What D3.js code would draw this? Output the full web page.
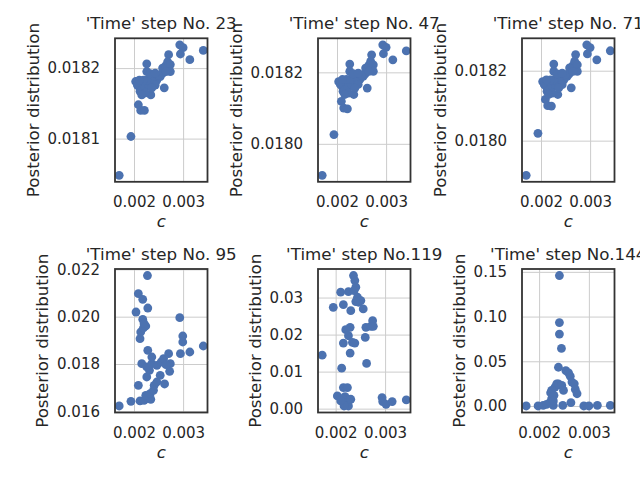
<!DOCTYPE html>
<html>
<head>
<meta charset="utf-8">
<script src="https://cdn.jsdelivr.net/npm/d3@7"></script>
<style>
  body { margin: 0; background: #fff; }
  text { font-family: "DejaVu Sans", sans-serif; fill: #262626; }
</style>
</head>
<body>
<svg id="fig" width="640" height="480"></svg>
<script>
/* values */

// c samples shared by the first three steps
var cSample = [0.001699, 0.001938, 0.002089, 0.002137, 0.002212, 0.002034, 0.002110, 0.002123,
  0.002178, 0.002260, 0.002260, 0.002308, 0.002342, 0.002397, 0.002466, 0.002534, 0.002575,
  0.002616, 0.002582, 0.002644, 0.002705, 0.002685, 0.002740, 0.002740, 0.002932, 0.003000,
  0.002945, 0.003137, 0.003411, 0.002068, 0.002158, 0.002226, 0.002295, 0.002363, 0.002260,
  0.002329, 0.002192, 0.002432, 0.002500, 0.002110, 0.002233, 0.002363, 0.002432, 0.002158,
  0.002651];

var postStep23 = [0.018048, 0.018103, 0.018148, 0.018140, 0.018140, 0.018181, 0.018173, 0.018167,
  0.018179, 0.018206, 0.018195, 0.018183, 0.018162, 0.018188, 0.018183, 0.018188, 0.018192,
  0.018172, 0.018200, 0.018203, 0.018219, 0.018209, 0.018205, 0.018195, 0.018233, 0.018229,
  0.018220, 0.018212, 0.018225, 0.018176, 0.018169, 0.018173, 0.018176, 0.018181, 0.018183,
  0.018192, 0.018183, 0.018176, 0.018190, 0.018183, 0.018165, 0.018172, 0.018193, 0.018162,
  0.018195];

var postStep47 = [0.017912, 0.018026, 0.018119, 0.018100, 0.018098, 0.018174, 0.018159, 0.018147,
  0.018170, 0.018223, 0.018203, 0.018180, 0.018138, 0.018189, 0.018180, 0.018189, 0.018196,
  0.018156, 0.018212, 0.018219, 0.018249, 0.018231, 0.018221, 0.018203, 0.018277, 0.018270,
  0.018252, 0.018235, 0.018260, 0.018166, 0.018152, 0.018159, 0.018166, 0.018175, 0.018180,
  0.018196, 0.018180, 0.018166, 0.018193, 0.018180, 0.018142, 0.018156, 0.018198, 0.018138,
  0.018203];

var postStep71 = [0.017901, 0.018021, 0.018118, 0.018100, 0.018099, 0.018169, 0.018154, 0.018141,
  0.018165, 0.018219, 0.018198, 0.018174, 0.018132, 0.018184, 0.018174, 0.018184, 0.018191,
  0.018151, 0.018208, 0.018214, 0.018246, 0.018227, 0.018217, 0.018198, 0.018274, 0.018266,
  0.018248, 0.018231, 0.018257, 0.018160, 0.018146, 0.018154, 0.018160, 0.018170, 0.018174,
  0.018191, 0.018174, 0.018160, 0.018189, 0.018174, 0.018136, 0.018151, 0.018193, 0.018132,
  0.018198];

// later steps, read as [c, posterior] pairs
var step95 = [[0.001699, 0.016225], [0.001938, 0.016423], [0.002089, 0.017099], [0.002123, 0.016437],
  [0.002205, 0.016465], [0.002295, 0.016535], [0.002342, 0.016507], [0.002240, 0.016676],
  [0.002329, 0.016746], [0.002397, 0.016887], [0.002411, 0.017099], [0.002466, 0.017239],
  [0.002534, 0.017521], [0.002623, 0.017155], [0.002260, 0.017451], [0.002315, 0.017732],
  [0.002158, 0.018014], [0.002260, 0.017873], [0.002363, 0.018014], [0.002363, 0.018296],
  [0.002281, 0.018577], [0.002466, 0.017944], [0.002555, 0.018085], [0.002603, 0.018225],
  [0.002705, 0.018437], [0.002740, 0.018014], [0.002726, 0.017690], [0.002651, 0.017972],
  [0.002945, 0.018437], [0.003137, 0.018507], [0.002993, 0.018930], [0.002993, 0.019183],
  [0.002932, 0.019958], [0.003411, 0.018761], [0.002123, 0.019070], [0.002137, 0.019352],
  [0.002192, 0.019521], [0.002240, 0.019606], [0.002178, 0.019887], [0.002041, 0.020197],
  [0.002281, 0.020366], [0.002178, 0.020732], [0.002089, 0.020972], [0.002274, 0.021740],
  [0.002205, 0.019704]];

var step119 = [[0.001728, 0.01445], [0.001952, 0.02737], [0.002122, 0.01093], [0.002102, 0.03144],
  [0.002156, 0.02809], [0.002259, 0.03162], [0.002306, 0.02647], [0.002361, 0.03595],
  [0.002388, 0.03460], [0.002408, 0.03279], [0.002374, 0.03189], [0.002442, 0.03008],
  [0.002463, 0.02873], [0.002510, 0.02918], [0.002558, 0.02692], [0.002408, 0.02891],
  [0.002293, 0.02195], [0.002204, 0.02132], [0.002259, 0.01969], [0.002156, 0.01771],
  [0.002340, 0.01789], [0.002388, 0.01771], [0.002293, 0.01500], [0.002599, 0.01924],
  [0.002612, 0.02195], [0.002714, 0.02222], [0.002748, 0.02376], [0.002762, 0.02222],
  [0.002626, 0.01220], [0.002190, 0.00325], [0.002156, 0.00569], [0.002238, 0.00569],
  [0.002136, 0.00271], [0.002034, 0.00343], [0.002204, 0.00163], [0.002259, 0.00072],
  [0.002306, 0.00253], [0.002170, 0.00072], [0.002102, 0.00208], [0.002939, 0.00298],
  [0.002952, 0.00190], [0.003020, 0.00117], [0.003143, 0.00190], [0.003429, 0.00235]];

var step144 = [[0.001741, 0.0000], [0.001980, 0.0000], [0.002082, 0.0007], [0.002150, 0.0019],
  [0.002218, 0.0037], [0.002252, 0.0082], [0.002286, 0.0007], [0.002231, 0.0148],
  [0.002252, 0.0174], [0.002299, 0.0119], [0.002320, 0.0211], [0.002354, 0.0248],
  [0.002388, 0.0248], [0.002408, 0.1459], [0.002408, 0.0933], [0.002408, 0.0804],
  [0.002449, 0.0644], [0.002388, 0.0433], [0.002456, 0.0230], [0.002490, 0.0174],
  [0.002537, 0.0396], [0.002592, 0.0370], [0.002626, 0.0333], [0.002660, 0.0267],
  [0.002707, 0.0248], [0.002728, 0.0185], [0.002762, 0.0137], [0.002639, 0.0037],
  [0.002476, 0.0007], [0.002286, 0.0056], [0.002898, 0.0000], [0.003000, 0.0000],
  [0.003170, 0.0007], [0.003430, 0.0007]];

var stepTitles = ["'Time' step No. 23", "'Time' step No. 47", "'Time' step No. 71",
  "'Time' step No. 95", "'Time' step No.119", "'Time' step No.144"];

var cTicks = [0.002, 0.003];
var yTicks23 = [0.0181, 0.0182];
var yTicks47 = [0.0180, 0.0182];
var yTicks71 = [0.0180, 0.0182];
var yTicks95 = [0.016, 0.018, 0.020, 0.022];
var yTicks119 = [0.00, 0.01, 0.02, 0.03];
var yTicks144 = [0.00, 0.05, 0.10, 0.15];

function zipC(ys) { return cSample.map(function(c, i) { return [c, ys[i]]; }); }

var panels = [
  { title: stepTitles[0], points: zipC(postStep23), yTicks: yTicks23, fmt: ".4f" },
  { title: stepTitles[1], points: zipC(postStep47), yTicks: yTicks47, fmt: ".4f" },
  { title: stepTitles[2], points: zipC(postStep71), yTicks: yTicks71, fmt: ".4f" },
  { title: stepTitles[3], points: step95, yTicks: yTicks95, fmt: ".3f" },
  { title: stepTitles[4], points: step119, yTicks: yTicks119, fmt: ".2f" },
  { title: stepTitles[5], points: step144, yTicks: yTicks144, fmt: ".2f" }
];

/* layout */
var colLeft = [115, 318, 522], rowTop = [38.3, 269],
    pw = 92.5, ph = 143.5;

var svg = d3.select("#fig");

// matplotlib style autoscale: 5% margin on both sides
function padded(ext) {
  var m = (ext[1] - ext[0]) * 0.05;
  return [ext[0] - m, ext[1] + m];
}

panels.forEach(function(p, i) {
  var g = svg.append("g")
    .attr("transform", "translate(" + colLeft[i % 3] + "," + rowTop[Math.floor(i / 3)] + ")");

  var x = d3.scaleLinear().domain(padded(d3.extent(p.points, function(d) { return d[0]; }))).range([0, pw]),
      y = d3.scaleLinear().domain(padded(d3.extent(p.points, function(d) { return d[1]; }))).range([ph, 0]);

  // grid
  g.append("g").attr("class", "grid")
    .attr("transform", "translate(0," + ph + ")")
    .call(d3.axisBottom(x).tickValues(cTicks).tickSize(-ph).tickFormat(""));
  g.append("g").attr("class", "grid")
    .call(d3.axisLeft(y).tickValues(p.yTicks).tickSize(-pw).tickFormat(""));
  g.selectAll(".grid line").attr("stroke", "#cccccc").attr("stroke-width", 1);
  g.selectAll(".grid path").remove();

  // points
  var clipId = "clip" + i;
  g.append("clipPath").attr("id", clipId)
    .append("rect").attr("width", pw).attr("height", ph);
  g.append("g").attr("clip-path", "url(#" + clipId + ")")
    .selectAll("circle").data(p.points).enter().append("circle")
      .attr("cx", function(d) { return x(d[0]); })
      .attr("cy", function(d) { return y(d[1]); })
      .attr("r", 4.4)
      .attr("fill", "#4c72b0");

  // tick labels
  var xa = g.append("g").attr("transform", "translate(0," + ph + ")")
    .call(d3.axisBottom(x).tickValues(cTicks).tickFormat(d3.format(".3f")).tickSize(0).tickPadding(15));
  var ya = g.append("g")
    .call(d3.axisLeft(y).tickValues(p.yTicks).tickFormat(d3.format(p.fmt)).tickSize(0).tickPadding(15));
  [xa, ya].forEach(function(a) {
    a.select(".domain").remove();
    a.selectAll("text").attr("font-size", 15).attr("font-family", "DejaVu Sans").attr("fill", "#262626");
  });

  // spines
  g.append("rect").attr("width", pw).attr("height", ph)
    .attr("fill", "none").attr("stroke", "#333333").attr("stroke-width", 1.8);

  // labels
  var maxW = d3.max(ya.selectAll("text").nodes(), function(n) { return n.getComputedTextLength(); });
  g.append("text")
    .attr("transform", "translate(" + (-15 - maxW - 9) + "," + (ph / 2) + ") rotate(-90)")
    .attr("text-anchor", "middle").attr("font-size", 16.7)
    .text("Posterior distribution");
  g.append("text")
    .attr("x", pw / 2).attr("y", ph + 45.5)
    .attr("text-anchor", "middle").attr("font-size", 16.7).attr("font-style", "italic")
    .text("c");
  g.append("text")
    .attr("x", pw / 2).attr("y", -9.5)
    .attr("text-anchor", "middle").attr("font-size", 16.7)
    .text(p.title);
});
</script>
</body>
</html>
